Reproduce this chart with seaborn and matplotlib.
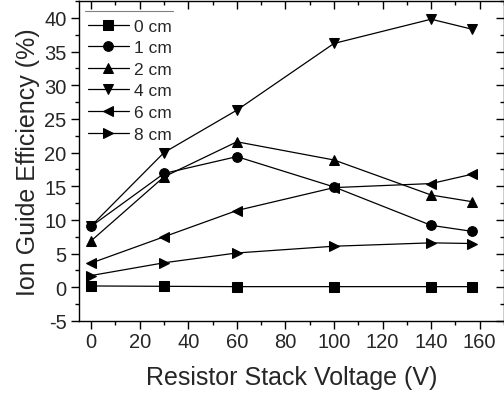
import numpy as np
import pandas as pd
import seaborn as sns
import matplotlib.pyplot as plt
from matplotlib.lines import Line2D
from matplotlib.ticker import MultipleLocator

sns.set_style("ticks")
plt.rcParams['font.family'] = ['Liberation Sans', 'DejaVu Sans']
plt.rcParams['axes.unicode_minus'] = False

# data
voltage = [0, 30, 60, 100, 140, 157]
d0 = [0.2, 0.15, 0.1, 0.1, 0.1, 0.1]
d1 = [9.05, 16.9, 19.4, 14.9, 9.2, 8.3]
d2 = [6.9, 16.4, 21.6, 18.9, 13.7, 12.7]
d4 = [9.1, 20.0, 26.3, 36.2, 39.8, 38.3]
d6 = [3.6, 7.5, 11.4, 14.8, 15.4, 16.8]
d8 = [1.75, 3.64, 5.1, 6.1, 6.6, 6.5]
labels = ['0 cm', '1 cm', '2 cm', '4 cm', '6 cm', '8 cm']
series = [d0, d1, d2, d4, d6, d8]

rows = []
for lab, vals in zip(labels, series):
    for v, e in zip(voltage, vals):
        rows.append({'V': v, 'eff': e, 'dist': lab})
df = pd.DataFrame(rows)

fig = plt.figure(figsize=(5.04, 4.02), dpi=100)
ax = fig.add_axes([79 / 504, 80 / 402, 425 / 504, 320 / 402])

mk = ['s', 'o', '^', 'v', '<', '>']
sns.lineplot(data=df, x='V', y='eff', style='dist', hue='dist',
             palette=['k'] * 6, markers=mk, dashes=False,
             markersize=7, linewidth=0.9, markeredgecolor='k',
             ax=ax, legend=True)

ax.set_xlim(-5, 170)
ax.set_ylim(-5, 42.5)
ax.xaxis.set_major_locator(MultipleLocator(20))
ax.xaxis.set_minor_locator(MultipleLocator(10))
ax.yaxis.set_major_locator(MultipleLocator(5))
ax.yaxis.set_minor_locator(MultipleLocator(2.5))
ax.tick_params(axis='both', which='both', direction='out', top=True, right=True,
               labelsize=14.5, width=1, color='k')
ax.tick_params(axis='x', pad=2)
ax.tick_params(axis='y', pad=3)
ax.tick_params(which='major', length=6)
ax.tick_params(which='minor', length=3)
for s in ax.spines.values():
    s.set_linewidth(1)
    s.set_color('k')

# top/right mirrored ticks drawn inward
for t in ax.xaxis.get_major_ticks() + ax.xaxis.get_minor_ticks():
    t.tick2line.set_marker(3)
for t in ax.yaxis.get_major_ticks() + ax.yaxis.get_minor_ticks():
    t.tick2line.set_marker(0)

ax.set_xlabel('Resistor Stack Voltage (V)', fontsize=18, labelpad=10)
ax.set_ylabel('Ion Guide Efficiency (%)', fontsize=18, labelpad=3)

handles, labs = ax.get_legend_handles_labels()
leg = ax.legend(handles, labs, loc='upper left', frameon=False, fontsize=12.5,
                handlelength=2.4, handletextpad=0.25, labelspacing=0.37,
                borderaxespad=0.0, borderpad=0.0, bbox_to_anchor=(0.02, 0.945))
ax.add_line(Line2D([0.015, 0.22], [0.968, 0.968], transform=ax.transAxes,
                   color='0.5', lw=0.8))

fig.savefig('out.png', dpi=100)
